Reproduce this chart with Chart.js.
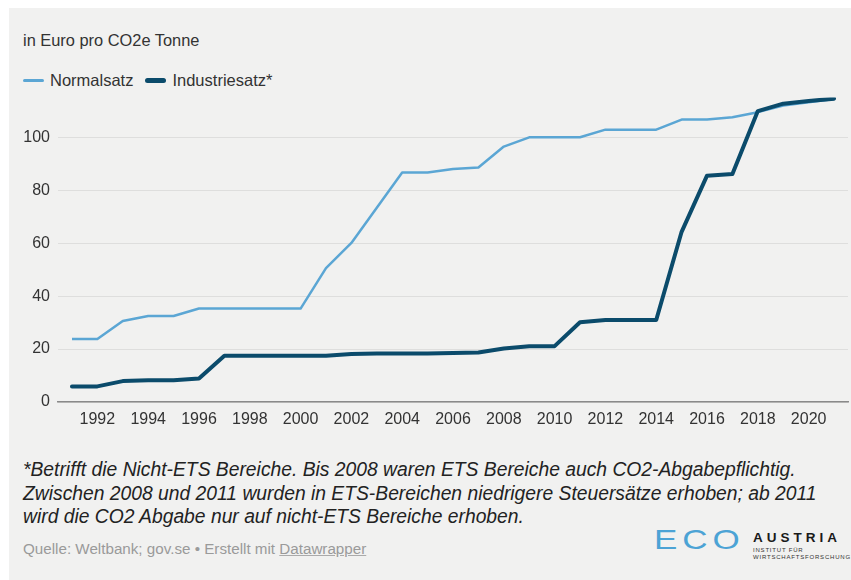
<!DOCTYPE html>
<html>
<head>
<meta charset="utf-8">
<script src="https://cdn.jsdelivr.net/npm/chart.js@4.4.1/dist/chart.umd.min.js"></script>
<style>
  html, body { margin: 0; padding: 0; background: #fff; }
  body { width: 851px; height: 580px; position: relative; overflow: hidden; font-family: "Liberation Sans", Arial, sans-serif; }
  #panel { position: absolute; left: 9px; top: 8px; width: 842px; height: 572px; background: #f1f1f0; }
  #unit { position: absolute; left: 23px; top: 31px; font-size: 16.4px; color: #333; }
  #legend { position: absolute; left: 23px; top: 71px; font-size: 16.5px; color: #333; display: flex; align-items: center; }
  .key { display: inline-block; width: 21px; border-radius: 3px; margin-right: 6px; }
  #wrap { position: absolute; left: 9px; top: 80px; width: 842px; height: 357px; }
  #note { position: absolute; left: 23px; top: 458px; width: 828px; font-size: 19.3px; font-style: italic; line-height: 23.5px; color: #222; white-space: nowrap; }
  #source { position: absolute; left: 23px; top: 540px; font-size: 15.2px; color: #9a9a9a; }
  #source u { text-decoration-color: #aaa; }
  #logo-eco { position: absolute; left: 654px; top: 524px; font-size: 28px; color: #4ca3d5; letter-spacing: 4px; transform: scaleX(1.25); transform-origin: left top; }
  #logo-a { position: absolute; left: 753px; top: 530px; font-size: 13.5px; font-weight: 700; letter-spacing: 4px; color: #1a1a1a; }
  #logo-s { position: absolute; left: 753px; top: 547px; font-size: 6px; line-height: 7px; color: #333; letter-spacing: 0.8px; }
</style>
</head>
<body>
<div id="panel"></div>
<div id="unit">in Euro pro CO2e Tonne</div>
<div id="legend">
  <span class="key" style="height:3px;background:#5ba6d4"></span><span style="margin-right:12px">Normalsatz</span>
  <span class="key" style="height:5px;background:#0b4b6b"></span><span>Industriesatz*</span>
</div>
<div id="wrap"><canvas id="chart"></canvas></div>
<div id="note">*Betrifft die Nicht-ETS Bereiche. Bis 2008 waren ETS Bereiche auch CO2-Abgabepflichtig.<br>Zwischen 2008 und 2011 wurden in ETS-Bereichen niedrigere Steuersätze erhoben; ab 2011<br>wird die CO2 Abgabe nur auf nicht-ETS Bereiche erhoben.</div>
<div id="source">Quelle: Weltbank; gov.se • Erstellt mit <u>Datawrapper</u></div>
<div id="logo-eco">ECO</div>
<div id="logo-a">AUSTRIA</div>
<div id="logo-s">INSTITUT FÜR<br>WIRTSCHAFTSFORSCHUNG</div>

<script>
// years 1991 - 2021
const years = [1991, 1992, 1993, 1994, 1995, 1996, 1997, 1998, 1999, 2000,
               2001, 2002, 2003, 2004, 2005, 2006, 2007, 2008, 2009, 2010,
               2011, 2012, 2013, 2014, 2015, 2016, 2017, 2018, 2019, 2020, 2021];
const normalsatz = [23.8, 23.8, 30.6, 32.5, 32.5, 35.3, 35.3, 35.3, 35.3, 35.3,
                    50.6, 60.1, 73.4, 86.7, 86.7, 88.0, 88.6, 96.5, 100, 100,
                    100, 102.9, 102.9, 102.9, 106.7, 106.7, 107.6, 109.5, 112.0, 113.2, 114.5];
const industriesatz = [5.9, 5.9, 7.9, 8.2, 8.2, 8.9, 17.5, 17.5, 17.5, 17.5,
                       17.5, 18.1, 18.3, 18.3, 18.3, 18.5, 18.7, 20.2, 21.1, 21.1,
                       30.1, 31.0, 31.0, 31.0, 64.3, 85.5, 86.1, 109.9, 112.7, 113.7, 114.6];
const xTicks = [1992, 1994, 1996, 1998, 2000, 2002, 2004, 2006, 2008, 2010, 2012, 2014, 2016, 2018, 2020];
const yTicks = [0, 20, 40, 60, 80, 100];

const txt = '#333';
const font = { family: 'Liberation Sans', size: 16 };

new Chart(document.getElementById('chart'), {
  type: 'line',
  data: {
    datasets: [
      {
        label: 'Industriesatz*',
        data: years.map((y, i) => ({ x: y, y: industriesatz[i] })),
        borderColor: '#0b4b6b',
        borderWidth: 4,
        borderCapStyle: 'round',
        borderJoinStyle: 'round',
        pointRadius: 0,
        tension: 0
      },
      {
        label: 'Normalsatz',
        data: years.map((y, i) => ({ x: y, y: normalsatz[i] })),
        borderColor: '#5ba6d4',
        borderWidth: 2.5,
        borderJoinStyle: 'round',
        pointRadius: 0,
        tension: 0
      }
    ]
  },
  options: {
    responsive: true,
    maintainAspectRatio: false,
    animation: false,
    layout: { padding: { top: 2, right: 3, left: 0, bottom: 0 } },
    plugins: { legend: { display: false }, tooltip: { enabled: false } },
    scales: {
      x: {
        type: 'linear',
        min: 1990.45,
        max: 2021.55,
        afterBuildTicks: s => { s.ticks = xTicks.map(v => ({ value: v })); },
        afterFit: s => { s.height = 35; },
        grid: { display: false, drawTicks: false },
        border: { color: '#8a8a8a', width: 1.5 },
        ticks: { color: txt, font: font, padding: 8, maxRotation: 0, autoSkip: false, callback: v => String(v) }
      },
      y: {
        min: 0,
        max: 115,
        afterBuildTicks: s => { s.ticks = yTicks.map(v => ({ value: v })); },
        afterFit: s => { s.width = 49; },
        grid: { color: '#dededd', lineWidth: 1, drawTicks: false },
        border: { display: false },
        ticks: { color: txt, font: font, padding: 8, callback: v => String(v) }
      }
    }
  }
});
</script>
</body>
</html>
